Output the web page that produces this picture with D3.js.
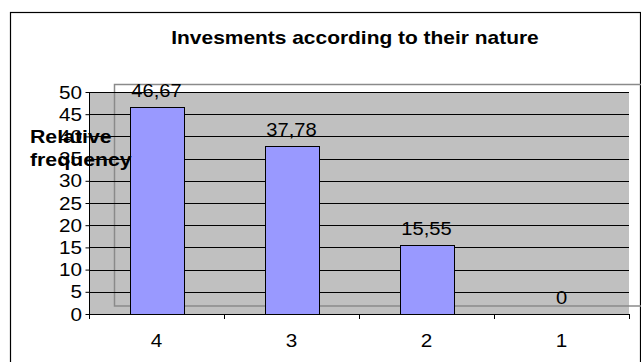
<!DOCTYPE html>
<html>
<head>
<meta charset="utf-8">
<script src="https://cdn.jsdelivr.net/npm/d3@7"></script>
<style>
  html, body { margin: 0; padding: 0; background: #fff; }
  svg { display: block; font-family: "Liberation Sans", Arial, sans-serif; }
</style>
</head>
<body>
<svg id="chart" width="641" height="362"></svg>
<script>
// Chart data
const categories = ["4", "3", "2", "1"];
const values = [46.67, 37.78, 15.55, 0];
const yTicks = [0, 5, 10, 15, 20, 25, 30, 35, 40, 45, 50];
const titleText = "Invesments according to their nature";
const yTitleLines = ["Relative", "frequency"];

const svg = d3.select("#chart");
const plot = { left: 89, right: 629, top: 92, bottom: 314 };
const stretch = 1.15; // horizontal widening of all type

const x = d3.scaleBand().domain(categories).range([plot.left, plot.right]).paddingInner(0.6).paddingOuter(0.3);
const xCat = d3.scaleBand().domain(categories).range([plot.left, plot.right]);
const y = d3.scaleLinear().domain([0, 50]).range([plot.bottom, plot.top]);

const comma = d3.formatLocale({ decimal: ",", thousands: ".", grouping: [3], currency: ["", ""] }).format(".2~f");

// text helper: widened glyphs anchored at (px, py)
function label(g, txt, px, py, opts) {
  return g.append("text")
    .attr("transform", `translate(${px},${py}) scale(${stretch},1)`)
    .attr("text-anchor", opts.anchor || "start")
    .attr("font-size", opts.size)
    .attr("font-weight", opts.weight || "normal")
    .attr("fill", "#000")
    .text(txt);
}

// chart frame
svg.append("rect").attr("x", 10.5).attr("y", 12.5).attr("width", 630).attr("height", 380)
  .attr("fill", "#fff").attr("stroke", "#000").attr("stroke-width", 1.2);

// plot background
svg.append("rect").attr("x", plot.left).attr("y", plot.top)
  .attr("width", plot.right - plot.left).attr("height", plot.bottom - plot.top)
  .attr("fill", "#c0c0c0");

// offset grey outline
svg.append("rect").attr("x", 114.5).attr("y", 84.5).attr("width", 540).attr("height", 221.5)
  .attr("fill", "none").attr("stroke", "#8a8a8a").attr("stroke-width", 1.5);

// gridlines
svg.append("g").selectAll("line").data(yTicks.filter(d => d > 0)).join("line")
  .attr("x1", plot.left).attr("x2", plot.right)
  .attr("y1", d => Math.round(y(d)) + 0.5).attr("y2", d => Math.round(y(d)) + 0.5)
  .attr("stroke", "#000").attr("stroke-width", 1);

// y axis
const yAxis = svg.append("g").attr("transform", `translate(${plot.left + 0.5},0)`)
  .call(d3.axisLeft(y).tickValues(yTicks).tickSize(4).tickFormat(""));
yAxis.selectAll("path, line").attr("stroke", "#000");
yAxis.select(".domain").attr("d", `M0,${plot.top}V${plot.bottom}`);
yTicks.forEach(t => label(svg, String(t), 82, y(t) + 6.5, { anchor: "end", size: 18 }));

// x axis with ticks between categories
const bounds = categories.map(c => xCat(c)).concat([plot.right]);
svg.append("line").attr("x1", plot.left).attr("x2", plot.right)
  .attr("y1", plot.bottom + 0.5).attr("y2", plot.bottom + 0.5).attr("stroke", "#000");
svg.append("g").selectAll("line").data(bounds).join("line")
  .attr("x1", d => Math.round(d) + 0.5).attr("x2", d => Math.round(d) + 0.5)
  .attr("y1", plot.bottom).attr("y2", plot.bottom + 5).attr("stroke", "#000");
categories.forEach(c => label(svg, c, xCat(c) + xCat.bandwidth() / 2, 347, { anchor: "middle", size: 18 }));

// bars
svg.append("g").selectAll("rect").data(values).join("rect")
  .attr("x", (d, i) => Math.round(x(categories[i])) + 0.5)
  .attr("y", d => Math.round(y(d)) + 0.5)
  .attr("width", x.bandwidth())
  .attr("height", d => Math.max(0, Math.round(y(0)) - Math.round(y(d))))
  .attr("fill", "#9999ff").attr("stroke", "#000").attr("stroke-width", 1);

// value labels
values.forEach((v, i) => label(svg, comma(v), x(categories[i]) + x.bandwidth() / 2, y(v) - 10, { anchor: "middle", size: 17.5 }));

// title
label(svg, titleText, 355, 44, { anchor: "middle", size: 18.2, weight: "bold" });

// y axis title
yTitleLines.forEach((t, i) => label(svg, t, 30, 143 + i * 23, { size: 18.5, weight: "bold" }));
</script>
</body>
</html>
